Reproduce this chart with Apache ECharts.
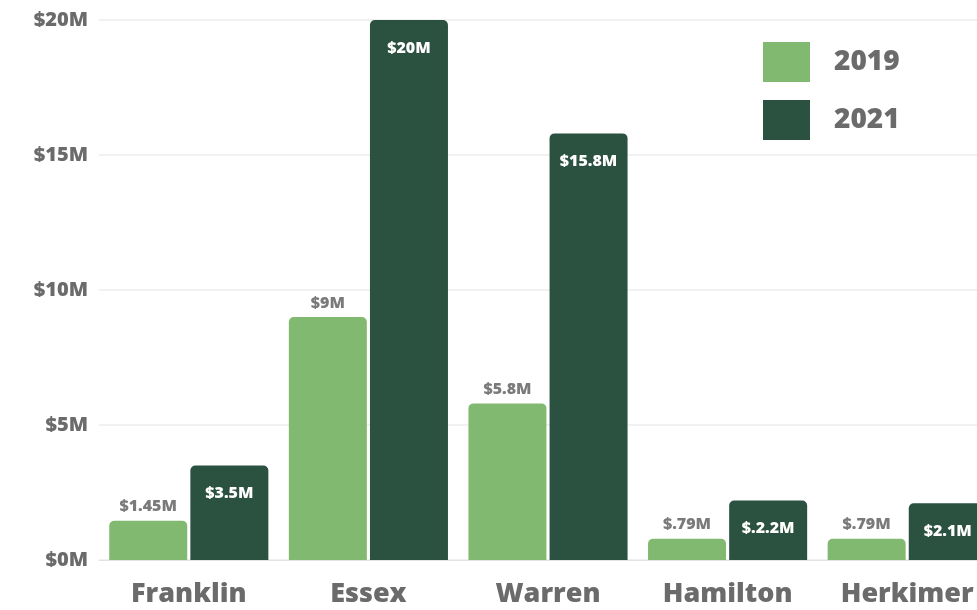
<!DOCTYPE html>
<html>
<head>
<meta charset="utf-8">
<script src="https://cdn.jsdelivr.net/npm/echarts@6/dist/echarts.min.js"></script>
<style>
  html, body { margin: 0; padding: 0; background: #fff; overflow: hidden; }
  /* the last bar is cut by the right edge in the original, so the canvas runs past the window */
  #chart { width: 997px; height: 610px; }
</style>
</head>
<body>
<div id="chart"></div>
<script>
// counties and funding (millions of dollars)
var counties = ['Franklin', 'Essex', 'Warren', 'Hamilton', 'Herkimer'];
var values2019 = [1.45, 9, 5.8, 0.79, 0.79];
var values2021 = [3.5, 20, 15.8, 2.2, 2.1];
var labels2019 = ['$1.45M', '$9M', '$5.8M', '$.79M', '$.79M'];
var labels2021 = ['$3.5M', '$20M', '$15.8M', '$.2.2M', '$2.1M'];
var yTicks = ['$0M', '$5M', '$10M', '$15M', '$20M'];

var FONT = '"Open Sans", "DejaVu Sans", sans-serif';
var GREY = '#6b6b6b';

var myChart = echarts.init(document.getElementById('chart'));

var option = {
  backgroundColor: '#ffffff',
  animation: false,
  textStyle: { fontFamily: FONT },
  grid: { left: 99, top: 20, right: 0, bottom: 50, containLabel: false },
  legend: {
    orient: 'vertical',
    left: 763,
    top: 42,
    padding: 0,
    icon: 'rect',
    itemWidth: 47,
    itemHeight: 40,
    itemGap: 18,
    textStyle: { fontFamily: FONT, fontSize: 28, fontWeight: 800, color: GREY, padding: [0, 0, 0, 19] },
    data: ['2019', '2021']
  },
  xAxis: {
    type: 'category',
    data: counties,
    axisTick: { show: false },
    axisLine: { lineStyle: { color: '#e2e2e2', width: 1 } },
    axisLabel: { fontFamily: FONT, fontSize: 27, fontWeight: 800, color: GREY, margin: 21 }
  },
  yAxis: {
    type: 'value',
    min: 0,
    max: 20,
    interval: 5,
    axisLine: { show: false },
    axisTick: { show: false },
    splitLine: { lineStyle: { color: '#ececec', width: 1.5 } },
    axisLabel: {
      fontFamily: FONT, fontSize: 20, fontWeight: 800, color: GREY, margin: 11,
      formatter: function (v) { return yTicks[v / 5]; }
    }
  },
  series: [
    {
      name: '2019',
      type: 'bar',
      data: values2019,
      barWidth: 78,
      barGap: '4%',
      itemStyle: { color: '#80b96f', borderRadius: [5, 5, 0, 0] },
      label: {
        show: true, position: 'top', distance: 6,
        fontFamily: FONT, fontSize: 16, fontWeight: 800, color: '#7a7a7a',
        formatter: function (p) { return labels2019[p.dataIndex]; }
      }
    },
    {
      name: '2021',
      type: 'bar',
      data: values2021,
      barWidth: 78,
      itemStyle: { color: '#2b5140', borderRadius: [5, 5, 0, 0] },
      label: {
        show: true, position: 'insideTop', distance: 20,
        fontFamily: FONT, fontSize: 16, fontWeight: 800, color: '#ffffff',
        formatter: function (p) { return labels2021[p.dataIndex]; }
      }
    }
  ]
};

myChart.setOption(option);
</script>
</body>
</html>
